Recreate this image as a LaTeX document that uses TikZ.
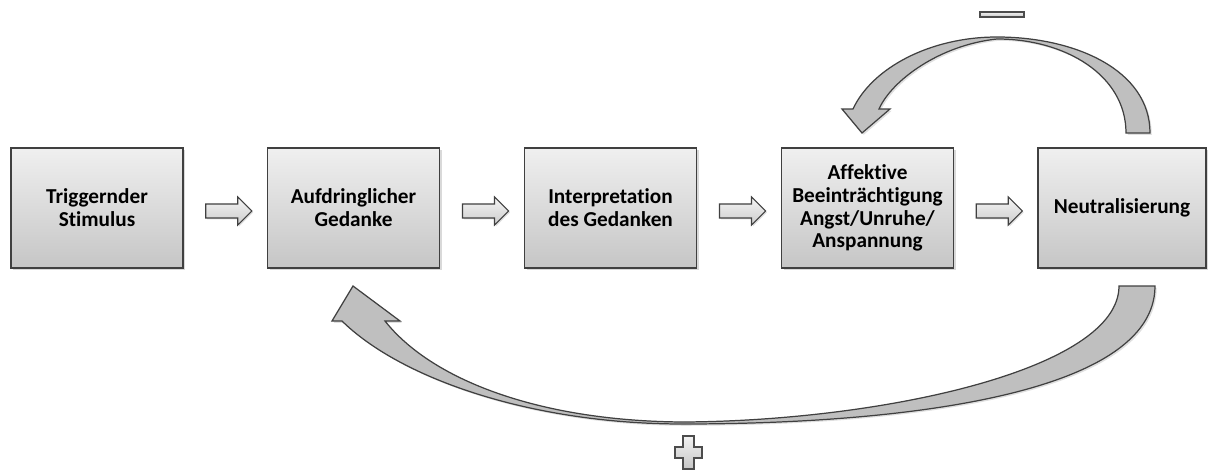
\documentclass[tikz,border=0pt]{standalone}
\usepackage{fontspec}
\setmainfont{Carlito}[Ligatures=NoCommon]
\usetikzlibrary{shapes.arrows,shadows,calc}

\tikzset{
	stage/.style={draw=black!75, line width=0.7pt, top color=gray!12, bottom color=gray!45,
		minimum width=3.44cm, minimum height=2.4cm, inner sep=0pt, align=center,
		font=\bfseries\fontsize{12.1}{13}\selectfont,
		drop shadow={shadow xshift=1.2pt, shadow yshift=-1.2pt, opacity=0.3}},
	flow/.style={single arrow, draw=black!75, line width=0.6pt, top color=gray!8, bottom color=gray!40,
		minimum height=0.92cm, minimum width=0.54cm, single arrow head extend=0.14cm,
		inner sep=0pt, yshift=-0.06cm,
		drop shadow={shadow xshift=0.8pt, shadow yshift=-0.8pt, opacity=0.25}},
	loop/.style={draw=black!75, line width=0.7pt, fill=gray!50,
		drop shadow={shadow xshift=1pt, shadow yshift=-1pt, opacity=0.25}},
	sign/.style={draw=black!70, line width=0.7pt, top color=gray!10, bottom color=gray!45}
}
\newcommand{\shaft}{\rule{0pt}{0.26cm}}

\begin{document}
\begin{tikzpicture}[x=0.02cm,y=-0.02cm]
	\useasboundingbox (0,0) rectangle (1208,470);
	\node[stage] (trigger) at (97,208) {Triggernder\\Stimulus};
	\node[stage] (thought) at (353.5,208) {Aufdringlicher\\Gedanke};
	\node[stage] (interp) at (610.5,208) {Interpretation\\des Gedanken};
	\node[stage] (affect) at (867.5,208) {Affektive\\Beeinträchtigung\\Angst/Unruhe/\\Anspannung};
	\node[stage, minimum width=3.36cm] (neutral) at (1122,208) {Neutralisierung};
	% arrows between the stages
	\node[flow] (a1) at ($(trigger.east)!.5!(thought.west)$) {\shaft};
	\node[flow] (a2) at ($(thought.east)!.5!(interp.west)$) {\shaft};
	\node[flow] (a3) at ($(interp.east)!.5!(affect.west)$) {\shaft};
	\node[flow] (a4) at ($(affect.east)!.5!(neutral.west)$) {\shaft};
	% negative feedback: neutral -> affect
	\path[loop] (1150,133) .. controls (1150,70) and (1075,37) .. (997,37)
		.. controls (930,37) and (872,68) .. (853,109) -- (842,109) -- (862,133) -- (890,109) -- (879,109)
		.. controls (892,80) and (940,45) .. (997,39)
		.. controls (1065,39) and (1126,75) .. (1126,133) -- cycle;
	% positive feedback: neutral -> thought
	\path[loop] (1155,286) .. controls (1155,395) and (900,424) .. (683,424)
		.. controls (530,424) and (400,378) .. (342,321) -- (332,321) -- (353,286) -- (400,321) -- (385,321)
		.. controls (430,378) and (535,421) .. (683,422)
		.. controls (880,421) and (1119,370) .. (1119,286) -- cycle;
	% signs
	\path[sign] (980,12) rectangle (1024,17);
	\path[sign] (683,436) -- (694,436) -- (694,447) -- (702,447) -- (702,458) -- (694,458) -- (694,469)
		-- (683,469) -- (683,458) -- (675,458) -- (675,447) -- (683,447) -- cycle;
\end{tikzpicture}
\end{document}
